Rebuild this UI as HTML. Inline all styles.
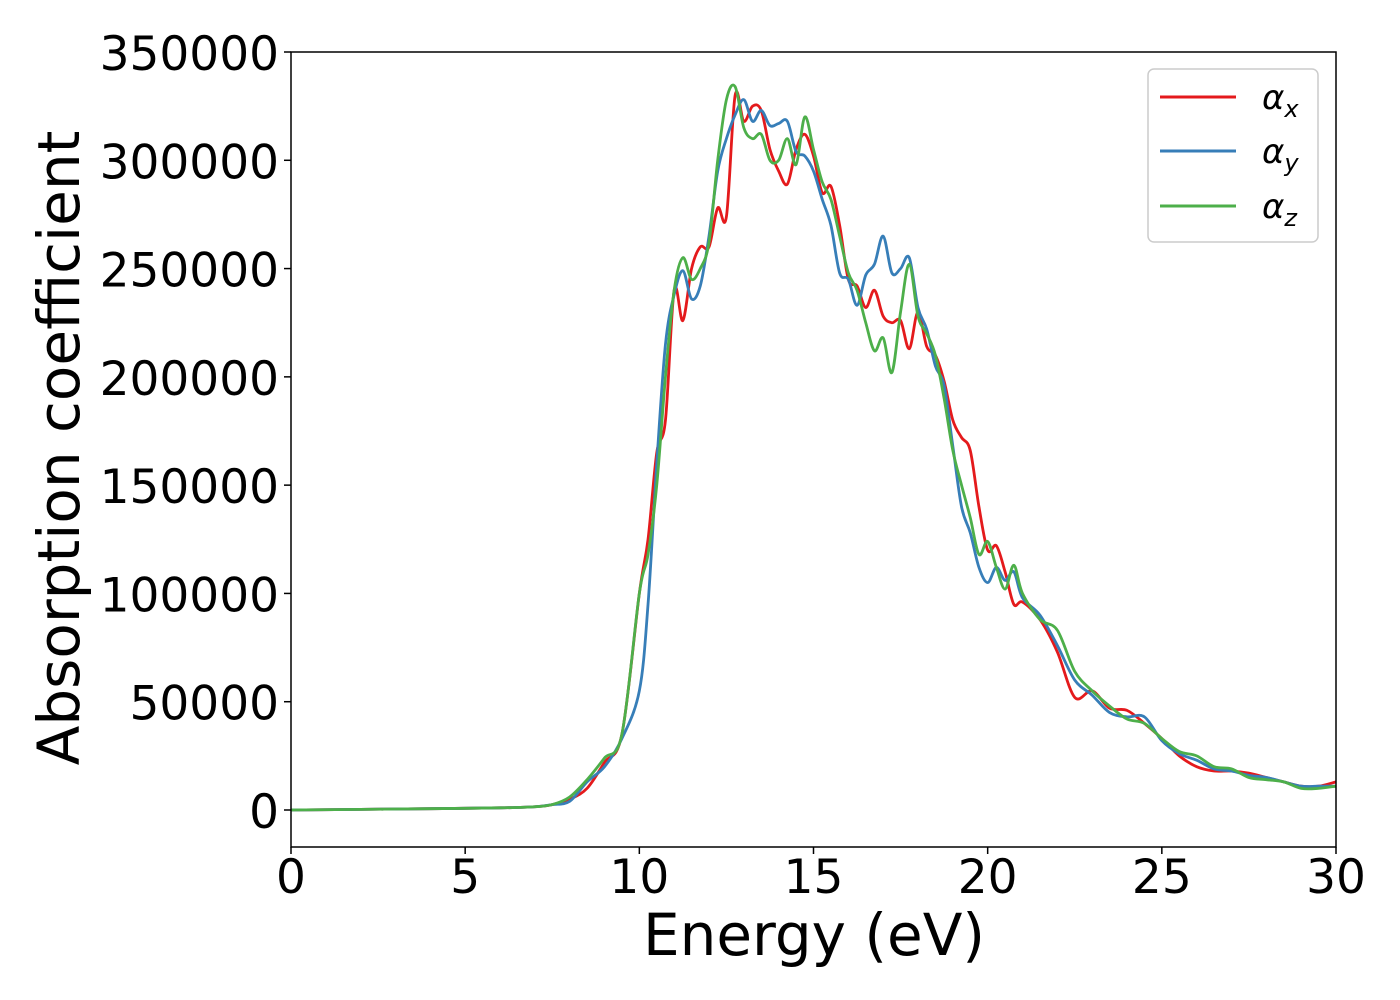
<!DOCTYPE html>
<html><head><meta charset="utf-8"><style>
body{margin:0;background:#fff}
svg{display:block;font-family:"DejaVu Sans","Liberation Sans",sans-serif}
</style></head><body>
<svg id="chart" width="1400" height="1000" viewBox="0 0 1400 1000">
<rect x="0" y="0" width="1400" height="1000" fill="#fff"/>
<g id="series"></g>
<rect x="291" y="52" width="1045" height="795" fill="none" stroke="#000" stroke-width="1.5"/>
<g id="xticks"></g>
<g id="yticks"></g>
<text x="814" y="955" font-size="58" text-anchor="middle">Energy (eV)</text>
<text transform="translate(79,448) rotate(-90)" font-size="58" text-anchor="middle">Absorption coefficient</text>
<g>
<rect x="1148" y="69" width="170" height="173" rx="6" fill="#fff" fill-opacity="0.8" stroke="#ccc" stroke-width="1.5"/>
<g><line x1="1160" y1="97" x2="1236" y2="97" stroke="#e41a1c" stroke-width="3"/><text x="1262" y="109" font-size="34" font-style="italic">α<tspan font-size="24" dy="8">x</tspan></text></g>
<g><line x1="1160" y1="151" x2="1236" y2="151" stroke="#377eb8" stroke-width="3"/><text x="1262" y="163" font-size="34" font-style="italic">α<tspan font-size="24" dy="8">y</tspan></text></g>
<g><line x1="1160" y1="206" x2="1236" y2="206" stroke="#4daf4a" stroke-width="3"/><text x="1262" y="218" font-size="34" font-style="italic">α<tspan font-size="24" dy="8">z</tspan></text></g>
</g>
</svg>
<script>
const energy=[0,2,4,6,7,7.5,8,8.5,9,9.5,10,10.25,10.5,10.75,11,11.25,11.5,11.75,12,12.25,12.5,12.75,13,13.25,13.5,13.75,14,14.25,14.5,14.75,15,15.25,15.5,15.75,16,16.25,16.5,16.75,17,17.25,17.5,17.75,18,18.25,18.5,18.75,19,19.25,19.5,19.75,20,20.25,20.5,20.75,21,21.5,22,22.5,23,23.5,24,24.5,25,25.5,26,26.5,27,27.5,28,28.5,29,29.5,30];
const alphaX=[0,0.3,0.6,1,1.5,2.5,5,10,22,35,100,125,165,180,240,226,250,260,260,278,274,330,318,325,323,305,295,289,305,312,302,285,288,270,245,242,232,240,228,225,226,213,230,214,210,198,180,172,166,140,120,122,110,95,96,88,73,52,55,47,46,40,33,25,20,18,18,17,15,13,11,11,13];
const alphaY=[0,0.3,0.6,1,1.5,2.5,4,13,20,33,55,95,160,215,238,249,236,242,265,295,310,321,328,318,323,316,317,318,304,302,295,282,270,248,245,233,247,252,265,248,250,255,232,222,205,196,168,140,128,112,105,112,106,110,98,90,76,60,53,45,43,43,32,26,23,19,18,16,15,13,11,11,11];
const alphaZ=[0,0.3,0.6,1,1.5,2.5,6,14,24,35,100,118,150,200,240,255,245,250,262,300,328,334,315,310,312,300,300,310,298,320,305,290,282,265,248,240,225,212,218,202,230,252,228,220,210,190,166,150,135,118,124,112,102,113,100,88,83,64,55,48,42,40,33,27,25,20,19,15,14,13,10,10,11];
const xTicks=[0,5,10,15,20,25,30];
const yTicks=[0,50000,100000,150000,200000,250000,300000,350000];
const X=e=>291+e*1045/30;
const Y=v=>810-v*758/350000;
const NS="http://www.w3.org/2000/svg";
function path(vals){
  const p=energy.map((e,i)=>[X(e),Y(vals[i]*1000)]);
  let d="M"+p[0][0]+","+p[0][1];
  for(let i=0;i<p.length-1;i++){
    const p0=p[i-1]||p[i],p1=p[i],p2=p[i+1],p3=p[i+2]||p2;
    const c1=[p1[0]+(p2[0]-p0[0])/6,p1[1]+(p2[1]-p0[1])/6];
    const c2=[p2[0]-(p3[0]-p1[0])/6,p2[1]-(p3[1]-p1[1])/6];
    d+=" C"+c1+" "+c2+" "+p2;
  }
  return d;
}
const g=document.getElementById("series");
[[alphaX,"#e41a1c","alpha-x"],[alphaY,"#377eb8","alpha-y"],[alphaZ,"#4daf4a","alpha-z"]].forEach(s=>{
  const el=document.createElementNS(NS,"path");
  el.setAttribute("d",path(s[0]));el.setAttribute("fill","none");el.setAttribute("stroke",s[1]);el.setAttribute("stroke-width","2.8");
  
  
  g.appendChild(el);
});
const xg=document.getElementById("xticks");
xTicks.forEach(t=>{
  const l=document.createElementNS(NS,"line");
  l.setAttribute("x1",X(t));l.setAttribute("x2",X(t));l.setAttribute("y1",847);l.setAttribute("y2",854);l.setAttribute("stroke","#000");l.setAttribute("stroke-width","1.5");
  
  
  xg.appendChild(l);
  const tx=document.createElementNS(NS,"text");
  tx.setAttribute("x",X(t));tx.setAttribute("y",893);tx.setAttribute("font-size","47");tx.setAttribute("text-anchor","middle");tx.textContent=t;
  
  
  xg.appendChild(tx);
});
const yg=document.getElementById("yticks");
yTicks.forEach(t=>{
  const l=document.createElementNS(NS,"line");
  l.setAttribute("x1",284);l.setAttribute("x2",291);l.setAttribute("y1",Y(t));l.setAttribute("y2",Y(t));l.setAttribute("stroke","#000");l.setAttribute("stroke-width","1.5");
  
  
  yg.appendChild(l);
  const tx=document.createElementNS(NS,"text");
  tx.setAttribute("x",279);tx.setAttribute("y",Y(t)+18);tx.setAttribute("font-size","47");tx.setAttribute("text-anchor","end");tx.textContent=t;
  
  
  yg.appendChild(tx);
});
</script>
</body></html>
